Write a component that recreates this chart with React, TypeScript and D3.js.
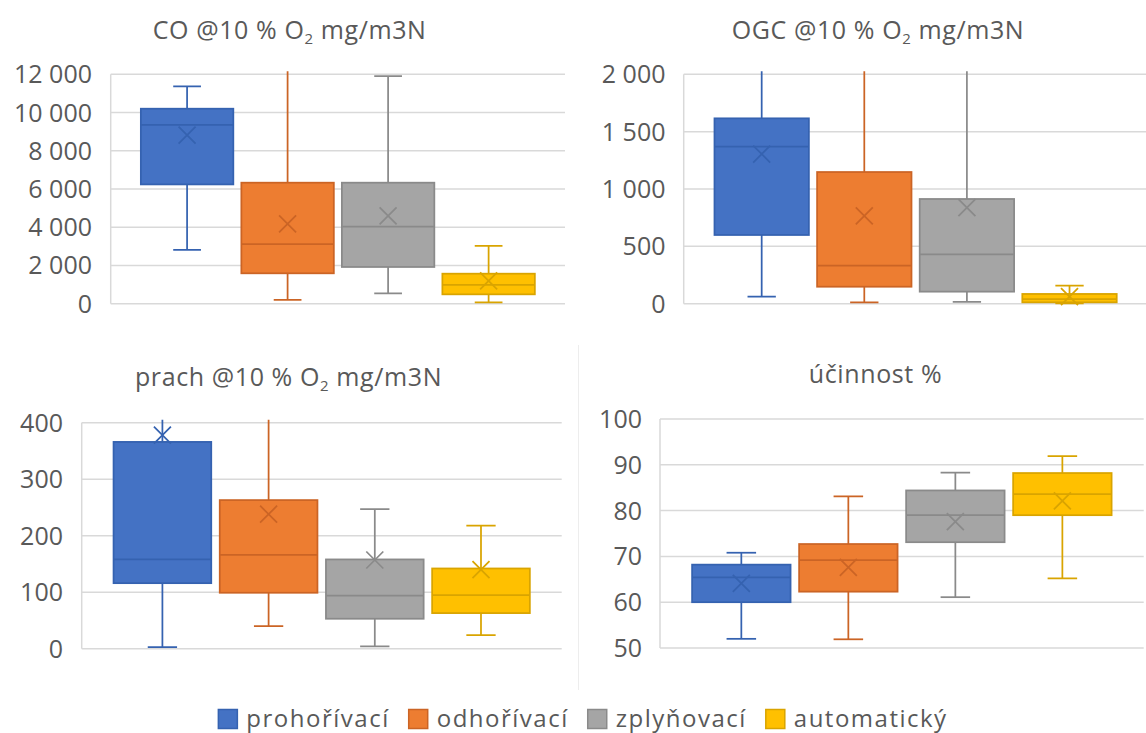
import React, { useEffect, useRef } from 'react';
import * as d3 from 'd3';

// ---------- data ----------
const seriesNames = ['prohořívací', 'odhořívací', 'zplyňovací', 'automatický'];
const fillColors = ['#4472C4', '#ED7D31', '#A5A5A5', '#FFC000'];
const strokeColors = ['#3562B0', '#CB6425', '#8A8A8A', '#D9A400'];

// CO @10 % O2 mg/m3N
const coTicks = [0, 2000, 4000, 6000, 8000, 10000, 12000];
const coMin = [2810, 200, 540, 70];
const coQ1 = [6240, 1590, 1920, 490];
const coMedian = [9350, 3120, 4030, 990];
const coQ3 = [10200, 6330, 6330, 1570];
const coMax = [11370, 13500, 11910, 3020];
const coMean = [8820, 4170, 4600, 1190];

// OGC @10 % O2 mg/m3N
const ogcTicks = [0, 500, 1000, 1500, 2000];
const ogcMin = [61, 12, 17, 3];
const ogcQ1 = [599, 148, 105, 12];
const ogcMedian = [1369, 331, 431, 40];
const ogcQ3 = [1616, 1148, 913, 85];
const ogcMax = [2300, 2400, 2500, 157];
const ogcMean = [1305, 765, 837, 61];

// prach @10 % O2 mg/m3N
const prachTicks = [0, 100, 200, 300, 400];
const prachMin = [3, 40, 4, 24];
const prachQ1 = [116, 99, 53, 63];
const prachMedian = [158, 166, 94, 95];
const prachQ3 = [366, 263, 158, 142];
const prachMax = [460, 470, 247, 218];
const prachMean = [378, 238, 157, 140];

// účinnost %
const ucTicks = [50, 60, 70, 80, 90, 100];
const ucMin = [52.0, 51.9, 61.1, 65.2];
const ucQ1 = [60.0, 62.3, 73.1, 79.0];
const ucMedian = [65.4, 69.2, 79.0, 83.6];
const ucQ3 = [68.2, 72.7, 84.4, 88.2];
const ucMax = [70.8, 83.1, 88.3, 91.9];
const ucMean = [64.1, 67.6, 77.6, 82.1];

const titles = [
  ['CO @10 % O', '2', ' mg/m3N'],
  ['OGC @10 % O', '2', ' mg/m3N'],
  ['prach @10 % O', '2', ' mg/m3N'],
  ['účinnost %', '', ''],
];

const FONT = '"Open Sans", "Noto Sans", sans-serif';
const TEXT = '#595959';
const GRID = '#D9D9D9';

const fmt = d3.formatLocale({ decimal: ',', thousands: ' ', grouping: [3], currency: ['', ''] }).format(',');

type Panel = {
  title: string[];
  ticks: number[];
  min: number[]; q1: number[]; med: number[]; q3: number[]; max: number[]; mean: number[];
  left: number; right: number; top: number; bottom: number;
  labelX: number; titleX: number; titleY: number;
};

const panels: Panel[] = [
  { title: titles[0], ticks: coTicks, min: coMin, q1: coQ1, med: coMedian, q3: coQ3, max: coMax, mean: coMean,
    left: 110.7, right: 565, top: 74.3, bottom: 303.7, labelX: 92, titleX: 289.6, titleY: 39 },
  { title: titles[1], ticks: ogcTicks, min: ogcMin, q1: ogcQ1, med: ogcMedian, q3: ogcQ3, max: ogcMax, mean: ogcMean,
    left: 683.7, right: 1147.5, top: 74.3, bottom: 303.7, labelX: 665.5, titleX: 878, titleY: 39 },
  { title: titles[2], ticks: prachTicks, min: prachMin, q1: prachQ1, med: prachMedian, q3: prachQ3, max: prachMax, mean: prachMean,
    left: 81.7, right: 561.7, top: 422.7, bottom: 648.7, labelX: 63, titleX: 288.5, titleY: 386 },
  { title: titles[3], ticks: ucTicks, min: ucMin, q1: ucQ1, med: ucMedian, q3: ucQ3, max: ucMax, mean: ucMean,
    left: 660, right: 1143.7, top: 419, bottom: 648, labelX: 642, titleX: 875.5, titleY: 382.5 },
];

export default function App() {
  const ref = useRef<SVGSVGElement | null>(null);

  useEffect(() => {
    const svg = d3.select(ref.current);
    svg.selectAll('*').remove();

    // faint chart border of the 4th chart
    svg.append('line').attr('x1', 578.5).attr('x2', 578.5).attr('y1', 345).attr('y2', 690)
      .attr('stroke', '#EDEDED').attr('stroke-width', 1);

    panels.forEach((p, pi) => {
      const g = svg.append('g');
      const y = d3.scaleLinear().domain([p.ticks[0], p.ticks[p.ticks.length - 1]]).range([p.bottom, p.top]);
      const x = d3.scaleBand<string>().domain(seriesNames).range([p.left, p.right]).paddingInner(0.08).paddingOuter(0.3);

      // title
      const t = g.append('text').attr('x', p.titleX).attr('y', p.titleY).attr('text-anchor', 'middle')
        .attr('font-family', FONT).attr('font-size', 25).attr('letter-spacing', 0.6).attr('fill', TEXT);
      t.append('tspan').text(p.title[0]);
      if (p.title[1]) {
        t.append('tspan').attr('font-size', 15).attr('dy', 5).text(p.title[1]);
        t.append('tspan').attr('dy', -5).text(p.title[2]);
      }

      // gridlines
      g.selectAll('.grid').data(p.ticks).enter().append('line')
        .attr('x1', p.left).attr('x2', p.right)
        .attr('y1', (d) => y(d)).attr('y2', (d) => y(d))
        .attr('stroke', GRID).attr('stroke-width', 1.5);
      g.append('line').attr('x1', p.left).attr('x2', p.left).attr('y1', p.top).attr('y2', p.bottom)
        .attr('stroke', GRID).attr('stroke-width', 1.5);

      // tick labels
      g.selectAll('.lbl').data(p.ticks).enter().append('text')
        .attr('x', p.labelX).attr('y', (d) => y(d)).attr('dy', '0.36em')
        .attr('text-anchor', 'end').attr('font-family', FONT).attr('font-size', 25).attr('fill', TEXT)
        .text((d) => fmt(d));

      // clip
      const clipId = `clip${pi}`;
      svg.append('clipPath').attr('id', clipId).append('rect')
        .attr('x', p.left - 5).attr('y', p.top - 3).attr('width', p.right - p.left + 10).attr('height', p.bottom - p.top + 8);
      const marks = g.append('g').attr('clip-path', `url(#${clipId})`);

      seriesNames.forEach((s, i) => {
        const bx = x(s) as number;
        const bw = x.bandwidth();
        const cx = bx + bw / 2;
        const cap = bw * 0.3;
        const col = strokeColors[i];
        // whiskers
        marks.append('line').attr('x1', cx).attr('x2', cx).attr('y1', y(p.max[i])).attr('y2', y(p.q3[i]))
          .attr('stroke', col).attr('stroke-width', 1.75);
        marks.append('line').attr('x1', cx).attr('x2', cx).attr('y1', y(p.q1[i])).attr('y2', y(p.min[i]))
          .attr('stroke', col).attr('stroke-width', 1.75);
        [p.max[i], p.min[i]].forEach((v) => {
          marks.append('line').attr('x1', cx - cap / 2).attr('x2', cx + cap / 2).attr('y1', y(v)).attr('y2', y(v))
            .attr('stroke', col).attr('stroke-width', 1.75);
        });
        // box
        marks.append('rect').attr('x', bx).attr('width', bw)
          .attr('y', y(p.q3[i])).attr('height', y(p.q1[i]) - y(p.q3[i]))
          .attr('fill', fillColors[i]).attr('stroke', col).attr('stroke-width', 1.75);
        // median
        marks.append('line').attr('x1', bx).attr('x2', bx + bw).attr('y1', y(p.med[i])).attr('y2', y(p.med[i]))
          .attr('stroke', col).attr('stroke-width', 1.75);
        // mean X
        const my = y(p.mean[i]);
        const h = 8.5;
        marks.append('path').attr('d', `M${cx - h},${my - h}L${cx + h},${my + h}M${cx - h},${my + h}L${cx + h},${my - h}`)
          .attr('stroke', col).attr('stroke-width', 1.75).attr('fill', 'none');
      });
    });

    // legend
    const lg = svg.append('g');
    const items = seriesNames.map((s, i) => {
      const it = lg.append('g');
      it.append('rect').attr('x', 0).attr('y', 709.5).attr('width', 19).attr('height', 19)
        .attr('fill', fillColors[i]).attr('stroke', strokeColors[i]).attr('stroke-width', 1.5);
      const tx = it.append('text').attr('x', 28).attr('y', 727).attr('font-family', FONT).attr('font-size', 24)
        .attr('letter-spacing', 1.5).attr('fill', TEXT).text(s);
      const w = 28 + (tx.node() as SVGTextElement).getComputedTextLength();
      return { it, w };
    });
    const gap = 19;
    const total = items.reduce((a, b) => a + b.w, 0) + gap * (items.length - 1);
    let cur = 583 - total / 2;
    items.forEach(({ it, w }) => {
      it.attr('transform', `translate(${cur},0)`);
      cur += w + gap;
    });
  }, []);

  return (
    <svg ref={ref} width={1146} height={733}
      style={{ position: 'absolute', left: 0, top: 0, background: '#fff' }} />
  );
}
